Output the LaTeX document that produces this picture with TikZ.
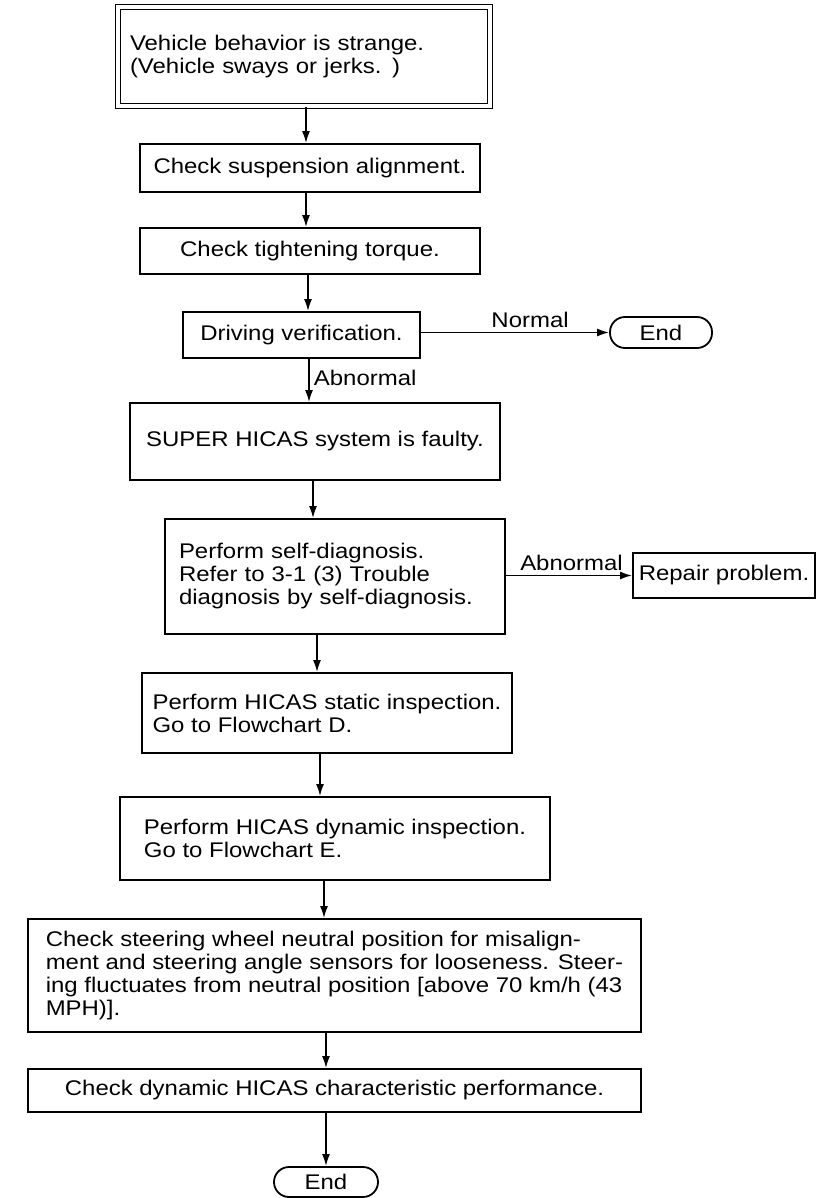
\documentclass[tikz,border=0pt]{standalone}
\usepackage{fontspec}
\setmainfont{Liberation Sans}[FakeStretch=1.13]
\usetikzlibrary{arrows.meta}

\begin{document}
\begin{tikzpicture}[x=0.5pt, y=-0.5pt,
    font=\fontsize{10.6}{11.5}\selectfont,
    box/.style={draw, line width=0.9pt, inner sep=0pt, align=center},
    lbox/.style={box, align=left},
    term/.style={draw, line width=0.9pt, rounded corners=7.5pt,
      minimum width=51pt, minimum height=15.5pt, inner sep=0pt},
    arr/.style={-{Latex[length=6pt,width=4pt]}, line width=0.9pt},
    lbl/.style={inner sep=2pt},
  ]
  \fill[white] (0,0) rectangle (820,1198);
  \useasboundingbox (0,0) rectangle (820,1198);

  % main column
  \node[lbox, double, line width=0.7pt, double distance=2pt,
    minimum width=186pt, minimum height=49.5pt, text width=174pt] (vehicle) at (304,56.5)
    {Vehicle behavior is strange.\\(Vehicle sways or jerks. )};
  \node[box, minimum width=170pt, minimum height=24pt] (susp) at (310,168)
    {Check suspension alignment.};
  \node[box, minimum width=170pt, minimum height=23pt] (torque) at (310,251)
    {Check tightening torque.};
  \node[box, minimum width=118.5pt, minimum height=23pt] (drive) at (301.5,335)
    {Driving verification.};
  \node[term] (endA) at (661,332.5) {End};
  \node[box, minimum width=185pt, minimum height=38.5pt] (faulty) at (315,441.5)
    {SUPER HICAS system is faulty.};
  \node[lbox, minimum width=170pt, minimum height=57.5pt, text width=156pt] (selfdiag) at (335,576.5)
    {Perform self-diagnosis.\\Refer to 3-1 (3) Trouble\\diagnosis by self-diagnosis.};
  \node[box, minimum width=91pt, minimum height=22.5pt, inner xsep=2pt] (repair) at (724,575.5)
    {Repair problem.};
  \node[lbox, minimum width=185pt, minimum height=40pt] (static) at (327,713)
    {Perform HICAS static inspection.\\Go to Flowchart D.};
  \node[lbox, minimum width=215pt, minimum height=41.5pt] (dynamic) at (335,838.5)
    {Perform HICAS dynamic inspection.\\Go to Flowchart E.};
  \node[lbox, minimum width=306.5pt, minimum height=56.5pt] (neutral) at (334.5,975.5)
    {Check steering wheel neutral position for misalign-\\ment and steering angle sensors for looseness. Steer-\\ing fluctuates from neutral position [above 70 km/h (43\\MPH)].};
  \node[box, minimum width=306.5pt, minimum height=21.5pt] (perf) at (334.5,1090.5)
    {Check dynamic HICAS characteristic performance.};
  \node[term, minimum width=52pt, minimum height=15pt] (endB) at (326,1182) {End};

  % connectors
  \draw[arr] (vehicle.south -| 306,0) -- (susp.north -| 306,0);
  \draw[arr] (susp.south -| 306,0) -- (torque.north -| 306,0);
  \draw[arr] (torque.south -| 308,0) -- (drive.north -| 308,0);
  \draw[arr] (drive.east |- endA.west) -- node[lbl, above, pos=0.58] {Normal} (endA.west);
  \draw[arr] (drive.south -| 309,0) -- node[lbl, right, pos=0.45] {Abnormal} (faulty.north -| 309,0);
  \draw[arr] (faulty.south -| 313,0) -- (selfdiag.north -| 313,0);
  \draw[arr] (selfdiag.east |- repair.west) -- node[lbl, above, pos=0.52] {Abnormal} (repair.west);
  \draw[arr] (selfdiag.south -| 317,0) -- (static.north -| 317,0);
  \draw[arr] (static.south -| 320,0) -- (dynamic.north -| 320,0);
  \draw[arr] (dynamic.south -| 324,0) -- (neutral.north -| 324,0);
  \draw[arr] (neutral.south -| 326,0) -- (perf.north -| 326,0);
  \draw[arr] (perf.south -| 326,0) -- (endB.north -| 326,0);
\end{tikzpicture}
\end{document}
